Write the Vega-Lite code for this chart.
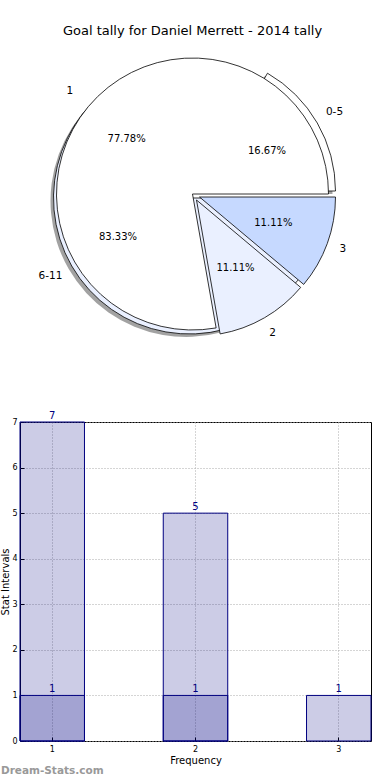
{
  "$schema": "https://vega.github.io/schema/vega-lite/v6.json",
  "padding": {"left": 0, "top": 25, "right": 0, "bottom": 0},
  "spacing": 64,
  "background": "white",
  "config": {
    "font": "DejaVu Sans",
    "title": {"fontWeight": "normal", "color": "black"},
    "axis": {"labelColor": "black", "titleColor": "black", "titleFontWeight": "normal", "labelFont": "DejaVu Sans", "titleFont": "DejaVu Sans"}
  },
  "datasets": {
    "pieA": [
      {"range": "0-5", "share": 0.1667},
      {"range": "6-11", "share": 0.8333}
    ],
    "pieB": [
      {"tally": "1", "share": 0.7778},
      {"tally": "2", "share": 0.1111},
      {"tally": "3", "share": 0.1111}
    ],
    "bars": [
      {"frequency": "1", "count": 7, "series": "all"},
      {"frequency": "2", "count": 5, "series": "all"},
      {"frequency": "3", "count": 1, "series": "all"},
      {"frequency": "1", "count": 1, "series": "subset"},
      {"frequency": "2", "count": 1, "series": "subset"}
    ]
  },
  "vconcat": [
    {
      "width": 345,
      "height": 304,
      "view": {"stroke": null},
      "title": {"text": "Goal tally for Daniel Merrett - 2014 tally", "fontSize": 13, "offset": 4, "font": "DejaVu Sans"},
      "layer": [
        {
          "data": {"name": "pieA"},
          "transform": [
            {"stack": "share", "groupby": [], "sort": [{"field": "range", "order": "descending"}], "as": ["t0", "t1"]},
            {"filter": "datum.range == '6-11'"}
          ],
          "mark": {"type": "arc", "outerRadius": 136, "fill": "#555555", "opacity": 0.55, "xOffset": -6, "yOffset": 7},
          "encoding": {
            "theta": {"field": "t0", "type": "quantitative", "scale": {"domain": [0, 1], "range": [1.5708, 7.854]}},
            "theta2": {"field": "t1"}
          }
        },
        {
          "data": {"name": "pieA"},
          "transform": [
            {"stack": "share", "groupby": [], "sort": [{"field": "range", "order": "descending"}], "as": ["t0", "t1"]},
            {"filter": "datum.range == '0-5'"}
          ],
          "mark": {"type": "arc", "outerRadius": 136, "fill": "#555555", "opacity": 0.55, "xOffset": 4, "yOffset": 0},
          "encoding": {
            "theta": {"field": "t0", "type": "quantitative", "scale": {"domain": [0, 1], "range": [1.5708, 7.854]}},
            "theta2": {"field": "t1"}
          }
        },
        {
          "data": {"name": "pieA"},
          "transform": [
            {"stack": "share", "groupby": [], "sort": [{"field": "range", "order": "descending"}], "as": ["t0", "t1"]},
            {"filter": "datum.range == '6-11'"}
          ],
          "mark": {"type": "arc", "outerRadius": 136, "fill": "#EAF0FF", "stroke": "black", "strokeWidth": 0.8, "xOffset": -3, "yOffset": 4},
          "encoding": {
            "theta": {"field": "t0", "type": "quantitative", "scale": {"domain": [0, 1], "range": [1.5708, 7.854]}},
            "theta2": {"field": "t1"}
          }
        },
        {
          "data": {"name": "pieA"},
          "transform": [
            {"stack": "share", "groupby": [], "sort": [{"field": "range", "order": "descending"}], "as": ["t0", "t1"]},
            {"filter": "datum.range == '0-5'"}
          ],
          "mark": {"type": "arc", "outerRadius": 136, "fill": "white", "stroke": "black", "strokeWidth": 0.8, "xOffset": 7, "yOffset": -3},
          "encoding": {
            "theta": {"field": "t0", "type": "quantitative", "scale": {"domain": [0, 1], "range": [1.5708, 7.854]}},
            "theta2": {"field": "t1"}
          }
        },
        {
          "data": {"name": "pieB"},
          "transform": [
            {"stack": "share", "groupby": [], "sort": [{"field": "tally", "order": "descending"}], "as": ["t0", "t1"]},
            {"filter": "datum.tally == '1'"}
          ],
          "mark": {"type": "arc", "outerRadius": 136, "fill": "white", "stroke": "black", "strokeWidth": 0.8},
          "encoding": {
            "theta": {"field": "t0", "type": "quantitative", "scale": {"domain": [0, 1], "range": [1.5708, 7.854]}},
            "theta2": {"field": "t1"}
          }
        },
        {
          "data": {"name": "pieB"},
          "transform": [
            {"stack": "share", "groupby": [], "sort": [{"field": "tally", "order": "descending"}], "as": ["t0", "t1"]},
            {"filter": "datum.tally == '2'"}
          ],
          "mark": {"type": "arc", "outerRadius": 136, "fill": "#EAF0FF", "stroke": "black", "strokeWidth": 0.8, "xOffset": 4, "yOffset": 6},
          "encoding": {
            "theta": {"field": "t0", "type": "quantitative", "scale": {"domain": [0, 1], "range": [1.5708, 7.854]}},
            "theta2": {"field": "t1"}
          }
        },
        {
          "data": {"name": "pieB"},
          "transform": [
            {"stack": "share", "groupby": [], "sort": [{"field": "tally", "order": "descending"}], "as": ["t0", "t1"]},
            {"filter": "datum.tally == '3'"}
          ],
          "mark": {"type": "arc", "outerRadius": 136, "fill": "#C6D9FF", "stroke": "black", "strokeWidth": 0.8, "xOffset": 7, "yOffset": 3},
          "encoding": {
            "theta": {"field": "t0", "type": "quantitative", "scale": {"domain": [0, 1], "range": [1.5708, 7.854]}},
            "theta2": {"field": "t1"}
          }
        },
        {
          "data": {"name": "pieA"},
          "mark": {"type": "text", "radius": 164, "fontSize": 10.5, "color": "black"},
          "encoding": {
            "theta": {"field": "share", "type": "quantitative", "stack": true, "scale": {"domain": [0, 1], "range": [1.5708, 7.854]}},
            "order": {"field": "range", "sort": "descending"},
            "text": {"field": "range"}
          }
        },
        {
          "data": {"name": "pieA"},
          "mark": {"type": "text", "radius": 86, "fontSize": 10, "color": "black"},
          "encoding": {
            "theta": {"field": "share", "type": "quantitative", "stack": true, "scale": {"domain": [0, 1], "range": [1.5708, 7.854]}},
            "order": {"field": "range", "sort": "descending"},
            "text": {"field": "share", "type": "quantitative", "format": ".2%"}
          }
        },
        {
          "data": {"name": "pieB"},
          "mark": {"type": "text", "radius": 160, "fontSize": 10.5, "color": "black"},
          "encoding": {
            "theta": {"field": "share", "type": "quantitative", "stack": true, "scale": {"domain": [0, 1], "range": [1.5708, 7.854]}},
            "order": {"field": "tally", "sort": "descending"},
            "text": {"field": "tally"}
          }
        },
        {
          "data": {"name": "pieB"},
          "mark": {"type": "text", "radius": 86, "fontSize": 10, "color": "black"},
          "encoding": {
            "theta": {"field": "share", "type": "quantitative", "stack": true, "scale": {"domain": [0, 1], "range": [1.5708, 7.854]}},
            "order": {"field": "tally", "sort": "descending"},
            "text": {"field": "share", "type": "quantitative", "format": ".2%"}
          }
        }
      ]
    },
    {
      "width": 351,
      "height": 319,
      "data": {"name": "bars"},
      "view": {"stroke": "black", "strokeWidth": 1},
      "title": {"text": "Dream-Stats.com", "orient": "bottom", "anchor": "start", "frame": "bounds", "color": "#999999", "fontWeight": "bold", "fontSize": 10.5, "offset": 1},
      "encoding": {
        "x": {
          "field": "frequency", "type": "ordinal", "title": "Frequency",
          "scale": {"paddingInner": 0.55, "paddingOuter": 0},
          "axis": {"labelAngle": 0, "labelFontSize": 8, "labelPadding": 8, "tickSize": -4, "tickColor": "black", "domain": false, "grid": true, "gridDash": [1, 2], "gridColor": "#aaaaaa", "titleFontSize": 10, "titlePadding": 2}
        },
        "y": {
          "field": "count", "type": "quantitative", "stack": null, "title": "Stat Intervals",
          "scale": {"domain": [0, 7], "nice": false},
          "axis": {"values": [0, 1, 2, 3, 4, 5, 6, 7], "labelFontSize": 8, "labelPadding": 7, "tickSize": -4, "tickColor": "black", "domain": false, "grid": true, "gridDash": [1, 2], "gridColor": "#aaaaaa", "titleFontSize": 10, "titlePadding": 1}
        }
      },
      "layer": [
        {
          "mark": {"type": "bar", "fill": "#000080", "fillOpacity": 0.2, "stroke": "#000080", "strokeWidth": 1}
        },
        {
          "mark": {"type": "text", "dy": -3, "baseline": "alphabetic", "color": "#000080", "fontSize": 10},
          "encoding": {"text": {"field": "count", "type": "quantitative"}}
        }
      ]
    }
  ]
}
